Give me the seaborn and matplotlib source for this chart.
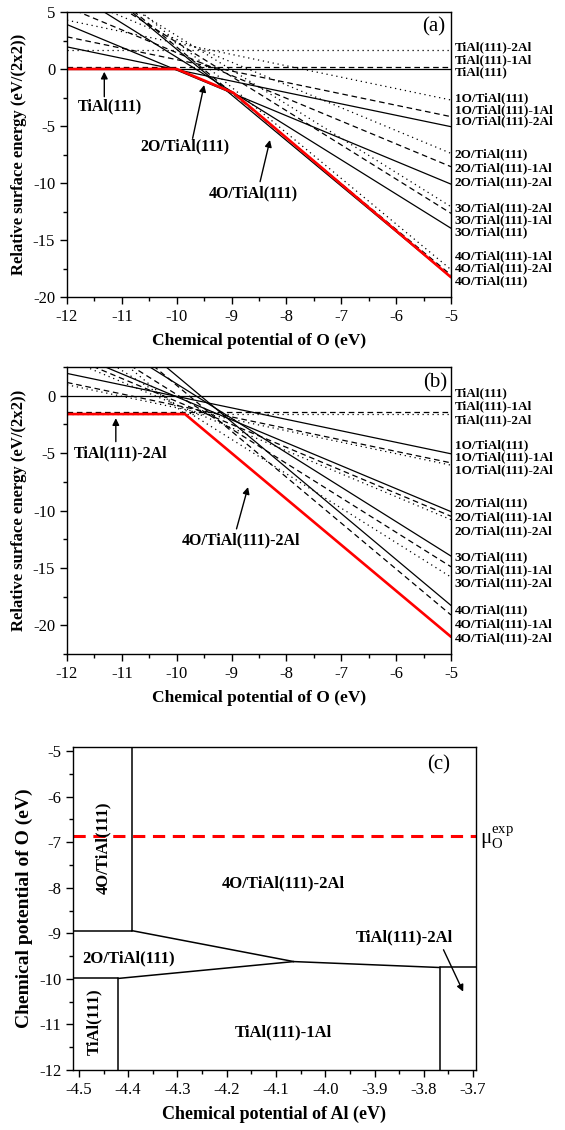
import numpy as np
import pandas as pd
import seaborn as sns
import matplotlib.pyplot as plt
from matplotlib.ticker import MultipleLocator

sns.set_theme(style="ticks")
plt.rcParams['font.family'] = ['Liberation Serif', 'DejaVu Serif']
plt.rcParams['mathtext.fontset'] = 'stix'
plt.rcParams['axes.unicode_minus'] = False
plt.rcParams['axes.linewidth'] = 1.0
plt.rcParams['axes.edgecolor'] = 'black'
plt.rcParams['text.color'] = 'black'
plt.rcParams['axes.labelcolor'] = 'black'
plt.rcParams['xtick.color'] = 'black'
plt.rcParams['ytick.color'] = 'black'

# ---- data ----
surfaces = ['TiAl(111)', 'TiAl(111)-1Al', 'TiAl(111)-2Al',
            '1O/TiAl(111)', '1O/TiAl(111)-1Al', '1O/TiAl(111)-2Al',
            '2O/TiAl(111)', '2O/TiAl(111)-1Al', '2O/TiAl(111)-2Al',
            '3O/TiAl(111)', '3O/TiAl(111)-1Al', '3O/TiAl(111)-2Al',
            '4O/TiAl(111)', '4O/TiAl(111)-1Al', '4O/TiAl(111)-2Al']
vacancy = ['none', '1Al', '2Al'] * 5
mu_o_ends = [-12, -5]

# energies at mu_O = -12 and mu_O = -5, panel (a)
e_a_left = [0, 0.2, 1.67, 1.94, 2.82, 4.28, 3.9, 5.43, 6.6, 7.03, 8.34, 8.92, 9.73, 9.93, 10.4]
e_a_right = [0, 0.2, 1.67, -5.06, -4.18, -2.72, -10.1, -8.57, -7.4, -13.97, -12.66, -12.08, -18.27, -18.07, -17.6]
# panel (b)
e_b_left = [0, -1.45, -1.6, 1.94, 1.15, 0.95, 3.9, 3.5, 3.2, 7.03, 6.1, 5.2, 9.73, 8.9, 7.0]
e_b_right = [0, -1.45, -1.6, -5.06, -5.85, -6.05, -10.1, -10.5, -10.8, -13.97, -14.9, -15.8, -18.27, -19.1, -21.0]

# stable envelope (red)
red_a_mu = [-12, -10, -8.97, -5]
red_a_e = [0, 0, -2.08, -18.27]
red_b_mu = [-12, -9.85, -5]
red_b_e = [-1.6, -1.6, -21.0]

# right-hand labels, top to bottom, with their heights
labels_a = ['TiAl(111)-2Al', 'TiAl(111)-1Al', 'TiAl(111)',
            '1O/TiAl(111)', '1O/TiAl(111)-1Al', '1O/TiAl(111)-2Al',
            '2O/TiAl(111)', '2O/TiAl(111)-1Al', '2O/TiAl(111)-2Al',
            '3O/TiAl(111)-2Al', '3O/TiAl(111)-1Al', '3O/TiAl(111)',
            '4O/TiAl(111)-1Al', '4O/TiAl(111)-2Al', '4O/TiAl(111)']
labels_a_y = [1.9, 0.79, -0.25, -2.6, -3.6, -4.6, -7.5, -8.75, -9.95,
              -12.25, -13.3, -14.3, -16.4, -17.5, -18.65]
labels_b = ['TiAl(111)', 'TiAl(111)-1Al', 'TiAl(111)-2Al',
            '1O/TiAl(111)', '1O/TiAl(111)-1Al', '1O/TiAl(111)-2Al',
            '2O/TiAl(111)', '2O/TiAl(111)-1Al', '2O/TiAl(111)-2Al',
            '3O/TiAl(111)', '3O/TiAl(111)-1Al', '3O/TiAl(111)-2Al',
            '4O/TiAl(111)', '4O/TiAl(111)-1Al', '4O/TiAl(111)-2Al']
labels_b_y = [0.24, -0.94, -2.1, -4.3, -5.4, -6.5, -9.4, -10.6, -11.8,
              -14.05, -15.2, -16.35, -18.7, -19.9, -21.1]

# phase diagram (c): boundary segments (mu_Al0, mu_O0, mu_Al1, mu_O1)
seg_al0 = [-4.393, -4.512, -4.393, -4.064, -3.768, -4.512, -4.42, -4.42, -3.768]
seg_o0 = [-4.91, -8.94, -8.94, -9.62, -9.75, -9.99, -9.99, -9.99, -9.75]
seg_al1 = [-4.393, -4.393, -4.064, -3.768, -3.694, -4.42, -4.064, -4.42, -3.768]
seg_o1 = [-8.94, -8.94, -9.62, -9.75, -9.75, -9.99, -9.62, -12.0, -12.0]
mu_o_exp = -6.86

line_dashes = {'none': '', '1Al': (4.5, 3), '2Al': (1, 3)}


def long_table(left, right):
    rows = []
    for name, vac, e0, e1 in zip(surfaces, vacancy, left, right):
        rows.append((name, vac, mu_o_ends[0], e0))
        rows.append((name, vac, mu_o_ends[1], e1))
    return pd.DataFrame(rows, columns=['surface', 'vac', 'mu', 'E'])


def style_axes(ax, xmaj, xmin, ymaj, ymin):
    ax.xaxis.set_major_locator(MultipleLocator(xmaj))
    ax.xaxis.set_minor_locator(MultipleLocator(xmin))
    ax.yaxis.set_major_locator(MultipleLocator(ymaj))
    ax.yaxis.set_minor_locator(MultipleLocator(ymin))
    ax.tick_params(which='major', direction='out', length=5, width=1, labelsize=12, colors='black')
    ax.tick_params(which='minor', direction='out', length=3, width=1, colors='black')
    for s in ax.spines.values():
        s.set_visible(True)
        s.set_color('black')
        s.set_linewidth(1)


fig = plt.figure(figsize=(5.65, 11.3), dpi=100)
ax_a = fig.add_axes([67 / 565, 1 - 297 / 1130, 384 / 565, 285 / 1130])
ax_b = fig.add_axes([67 / 565, 1 - 654 / 1130, 384 / 565, 287 / 1130])
ax_c = fig.add_axes([73 / 565, 1 - 1070 / 1130, 403 / 565, 323 / 1130])

arrow_kw = dict(arrowstyle='-|>', color='black', lw=1, mutation_scale=10, shrinkA=0, shrinkB=0)
bold = dict(fontsize=11.5, fontweight='bold', ha='center', va='center')

for ax, left, right, rmu, re_, labs, labs_y in [
        (ax_a, e_a_left, e_a_right, red_a_mu, red_a_e, labels_a, labels_a_y),
        (ax_b, e_b_left, e_b_right, red_b_mu, red_b_e, labels_b, labels_b_y)]:
    df = long_table(left, right)
    sns.lineplot(data=df, x='mu', y='E', units='surface', estimator=None, style='vac',
                 dashes=line_dashes, color='black', linewidth=0.9, legend=False, sort=False, ax=ax)
    red = pd.DataFrame({'mu': rmu, 'E': re_})
    sns.lineplot(data=red, x='mu', y='E', estimator=None, color='red', linewidth=1.9,
                 sort=False, ax=ax)
    ax.set_xlim(-12, -5)
    style_axes(ax, 1, 0.5, 5, 2.5)
    ax.set_xlabel('Chemical potential of O (eV)', fontsize=12.5, fontweight='bold', labelpad=6)
    ax.set_ylabel('Relative surface energy (eV/(2x2))', fontsize=12, fontweight='bold', labelpad=4)
    for lab, yv in zip(labs, labs_y):
        ax.text(-4.93, yv, lab, fontsize=9.5, fontweight='bold', ha='left', va='center', clip_on=False)

ax_a.set_ylim(-20, 5)
ax_b.set_ylim(-22.5, 2.5)
ax_b.set_yticks([-20, -15, -10, -5, 0])

ax_a.text(-5.32, 3.7, '(a)', fontsize=15, ha='center', va='center')
ax_a.text(-11.22, -3.3, 'TiAl(111)', **bold)
ax_a.annotate('', xy=(-11.32, -0.24), xytext=(-11.32, -2.43), arrowprops=arrow_kw)
ax_a.text(-9.85, -6.8, '2O/TiAl(111)', **bold)
ax_a.annotate('', xy=(-9.50, -1.40), xytext=(-9.71, -6.08), arrowprops=arrow_kw)
ax_a.text(-8.60, -10.9, '4O/TiAl(111)', **bold)
ax_a.annotate('', xy=(-8.30, -6.23), xytext=(-8.48, -9.88), arrowprops=arrow_kw)

ax_b.text(-5.29, 1.11, '(b)', fontsize=15, ha='center', va='center')
ax_b.text(-11.03, -5.03, 'TiAl(111)-2Al', **bold)
ax_b.annotate('', xy=(-11.11, -1.96), xytext=(-11.11, -4.0), arrowprops=arrow_kw)
ax_b.text(-8.82, -12.6, '4O/TiAl(111)-2Al', **bold)
ax_b.annotate('', xy=(-8.70, -7.96), xytext=(-8.91, -11.6), arrowprops=arrow_kw)

# ---- panel (c) ----
seg_rows = []
for k, (a0, o0, a1, o1) in enumerate(zip(seg_al0, seg_o0, seg_al1, seg_o1)):
    seg_rows.append((k, a0, o0))
    seg_rows.append((k, a1, o1))
segs = pd.DataFrame(seg_rows, columns=['seg', 'mu_al', 'mu_o'])
sns.lineplot(data=segs, x='mu_al', y='mu_o', units='seg', estimator=None, color='black',
             linewidth=1.1, sort=False, legend=False, ax=ax_c)
ax_c.axhline(mu_o_exp, color='red', linewidth=2.2, dashes=(4, 2.5))
ax_c.set_xlim(-4.512, -3.694)
ax_c.set_ylim(-12, -4.91)
style_axes(ax_c, 0.1, 0.05, 1, 0.5)
ax_c.set_xticks(np.arange(-4.5, -3.65, 0.1))
ax_c.set_xticklabels(['-4.5', '-4.4', '-4.3', '-4.2', '-4.1', '-4.0', '-3.9', '-3.8', '-3.7'])
ax_c.set_xlabel('Chemical potential of Al (eV)', fontsize=13, fontweight='bold', labelpad=6)
ax_c.set_ylabel('Chemical potential of O (eV)', fontsize=14, fontweight='bold', labelpad=4)

big = dict(fontsize=12, fontweight='bold', ha='center', va='center')
ax_c.text(-3.77, -5.3, '(c)', fontsize=15, ha='center', va='center')
ax_c.text(-4.45, -7.13, '4O/TiAl(111)', rotation=90, **big)
ax_c.text(-4.085, -7.9, '4O/TiAl(111)-2Al', **big)
ax_c.text(-4.40, -9.54, '2O/TiAl(111)', **big)
ax_c.text(-3.84, -9.08, 'TiAl(111)-2Al', **big)
ax_c.annotate('', xy=(-3.72, -10.28), xytext=(-3.76, -9.36), arrowprops=arrow_kw)
ax_c.text(-4.47, -10.94, 'TiAl(111)', rotation=90, **big)
ax_c.text(-4.085, -11.18, 'TiAl(111)-1Al', **big)
ax_c.text(-3.685, -6.9, r'$\mathregular{μ_O^{exp}}$', fontsize=15, ha='left', va='center',
          clip_on=False)

fig.savefig('out.png', dpi=100)
